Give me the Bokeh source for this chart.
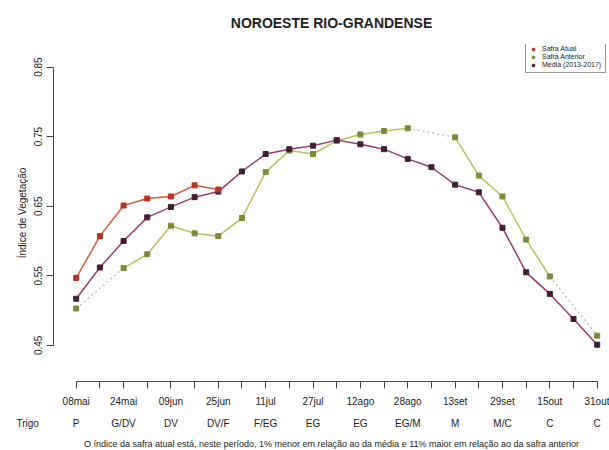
import math
from bokeh.plotting import figure
from bokeh.models import (Range1d, FixedTicker, LinearAxis, Legend,
                          LegendItem, ColumnDataSource, Title)
from bokeh.embed import file_html
from bokeh.resources import INLINE

nan = float("nan")

# ---- data ----
periodos = list(range(23))
datas = ["08mai", "24mai", "09jun", "25jun", "11jul", "27jul",
         "12ago", "28ago", "13set", "29set", "15out", "31out"]
cultura = "Trigo"
estadios = ["P", "G/DV", "DV", "DV/F", "F/EG", "EG",
            "EG", "EG/M", "M", "M/C", "C", "C"]
safra_atual = [0.547, 0.607, 0.651, 0.661, 0.664, 0.680, 0.674]
safra_anterior = [0.503, nan, 0.561, 0.581, 0.622, 0.611, 0.607, 0.633,
                  0.699, 0.730, 0.725, 0.744, 0.753, 0.758, 0.762, nan,
                  0.749, 0.694, 0.664, 0.602, 0.549, nan, 0.464]
media = [0.517, 0.562, 0.600, 0.634, 0.649, 0.663, 0.671, 0.700, 0.725,
         0.732, 0.737, 0.745, 0.739, 0.732, 0.718, 0.706, 0.681, 0.670,
         0.619, 0.555, 0.524, 0.488, 0.451]
y_ticks = [0.45, 0.55, 0.65, 0.75, 0.85]

FONT = "Liberation Sans"
TXT = "#222222"
AX = "#444444"

c_atual_line, c_atual_pt = "#e4553b", "#b83224"
c_ant_line, c_ant_pt = "#bcc05a", "#80893a"
c_med_line, c_med_pt = "#9c3d6c", "#3f1f36"

p = figure(width=609, height=450, output_backend="svg", toolbar_location=None,
           x_range=Range1d(-0.9586, 22.519), y_range=Range1d(0.3981, 0.8824),
           min_border_left=53, min_border_right=0, min_border_top=44,
           min_border_bottom=67)
p.outline_line_color = None
p.grid.visible = False
p.background_fill_color = "white"
p.border_fill_color = "white"

# ---- title ----
p.title.text = "NOROESTE RIO-GRANDENSE"
p.title.align = "center"
p.title.vertical_align = "middle"
p.title.text_font_size = "14px"
p.title.text_font_style = "bold"
p.title.text_font = FONT
p.title.text_color = TXT
p.title.offset = 2
p.title.standoff = 25

# ---- y axis ----
ya = p.yaxis[0]
ya.ticker = FixedTicker(ticks=y_ticks)
ya.bounds = (0.45, 0.85)
ya.major_tick_out = 7
ya.major_tick_in = 0
ya.minor_tick_out = 0
ya.minor_tick_in = 0
ya.major_label_orientation = "vertical"
ya.major_label_standoff = 4
ya.major_label_text_font_size = "10px"
ya.major_label_text_font = FONT
ya.major_label_text_color = TXT
ya.axis_line_color = AX
ya.major_tick_line_color = AX
ya.axis_label = "Índice de Vegetação"
ya.axis_label_text_font_style = "normal"
ya.axis_label_text_font_size = "10px"
ya.axis_label_text_font = FONT
ya.axis_label_text_color = TXT
ya.axis_label_standoff = 4

# ---- x axis (dates) ----
xa = p.xaxis[0]
xa.ticker = FixedTicker(ticks=periodos)
xa.bounds = (0, 22)
xa.major_tick_out = 7
xa.major_tick_in = 0
xa.minor_tick_out = 0
xa.minor_tick_in = 0
xa.major_label_standoff = 7
xa.major_label_text_font_size = "10px"
xa.major_label_text_font = FONT
xa.major_label_text_color = TXT
xa.axis_line_color = AX
xa.major_tick_line_color = AX
xa.major_label_overrides = {i: (datas[i // 2] if i % 2 == 0 else "") for i in periodos}

# ---- crop name row (left of the stage labels) ----
t_cultura = Title(text=cultura, align="left", vertical_align="middle",
                  text_font_size="10px", text_font_style="normal",
                  text_font=FONT, text_color=TXT, offset=-37, standoff=14)
p.add_layout(t_cultura, "below")

# ---- stage labels, drawn on the same row as the crop name ----
xs = LinearAxis(ticker=FixedTicker(ticks=periodos))
xs.axis_line_color = None
xs.major_tick_line_color = None
xs.minor_tick_line_color = None
xs.major_tick_out = 0
xs.major_tick_in = 0
xs.major_label_standoff = -19
xs.major_label_text_font_size = "10px"
xs.major_label_text_font = FONT
xs.major_label_text_color = TXT
xs.major_label_overrides = {i: (estadios[i // 2] if i % 2 == 0 else "") for i in periodos}
p.add_layout(xs, "below")

# ---- footer ----
footer = Title(text="O índice da safra atual está, neste período, 1% menor em relação ao da média e 11% maior em relação ao da safra anterior",
               align="center", vertical_align="middle", text_font_size="9px",
               text_font_style="normal", text_font=FONT, text_color=TXT,
               offset=2, standoff=2)
p.add_layout(footer, "below")

# ---- safra anterior: dotted connectors across missing periods ----
seg_x0, seg_y0, seg_x1, seg_y1 = [], [], [], []
valid = [i for i in periodos if not math.isnan(safra_anterior[i])]
for a, b in zip(valid[:-1], valid[1:]):
    if b - a > 1:
        seg_x0.append(a); seg_y0.append(safra_anterior[a])
        seg_x1.append(b); seg_y1.append(safra_anterior[b])
p.segment(seg_x0, seg_y0, seg_x1, seg_y1, line_color="#bdbdb0",
          line_width=1.3, line_dash="2 3")

src_ant = ColumnDataSource(dict(x=periodos, y=safra_anterior))
p.line("x", "y", source=src_ant, line_color=c_ant_line, line_width=1.5)
r_ant = p.scatter("x", "y", source=src_ant, marker="square", size=5,
                  fill_color=c_ant_pt, line_color=c_ant_pt)

src_med = ColumnDataSource(dict(x=periodos, y=media))
p.line("x", "y", source=src_med, line_color=c_med_line, line_width=1.5)
r_med = p.scatter("x", "y", source=src_med, marker="square", size=5,
                  fill_color=c_med_pt, line_color=c_med_pt)

src_at = ColumnDataSource(dict(x=periodos[:len(safra_atual)], y=safra_atual))
p.line("x", "y", source=src_at, line_color=c_atual_line, line_width=1.5)
r_at = p.scatter("x", "y", source=src_at, marker="square", size=5,
                 fill_color=c_atual_pt, line_color=c_atual_pt)

# ---- legend ----
legend = Legend(items=[LegendItem(label="Safra Atual", renderers=[r_at]),
                       LegendItem(label="Safra Anterior", renderers=[r_ant]),
                       LegendItem(label="Média (2013-2017)", renderers=[r_med])],
                location=(472, 308))
legend.label_text_font_size = "7px"
legend.label_text_font = FONT
legend.label_text_color = TXT
legend.label_height = 7
legend.glyph_height = 6
legend.glyph_width = 6
legend.label_standoff = 6
legend.spacing = 1
legend.padding = 4
legend.margin = 0
legend.border_line_color = "#333333"
legend.border_line_width = 1
legend.background_fill_color = "white"
legend.background_fill_alpha = 1
p.add_layout(legend)

open("out.html", "w").write(file_html(p, INLINE))
